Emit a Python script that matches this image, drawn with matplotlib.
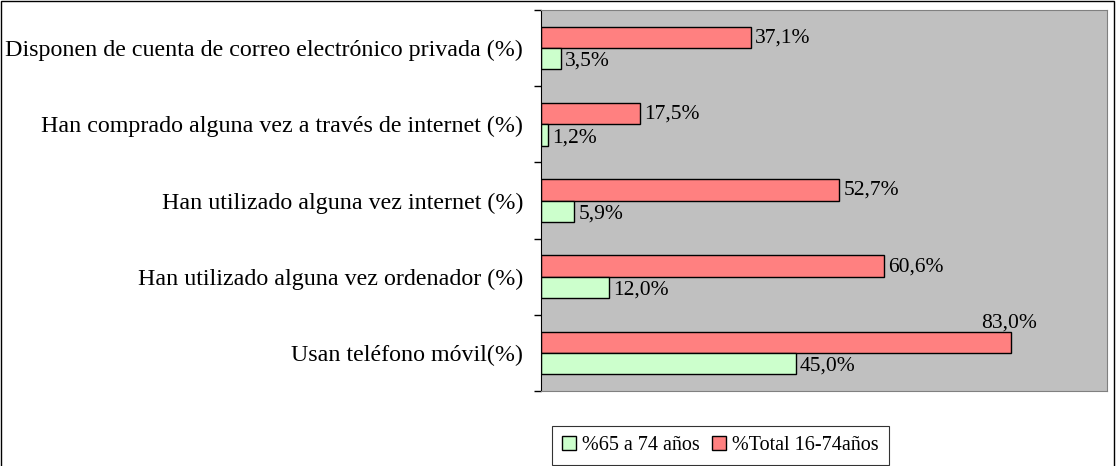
import numpy as np
import matplotlib.pyplot as plt
from matplotlib.patches import Rectangle

# categorias de abajo hacia arriba
categorias = ['Usan teléfono móvil(%)',
              'Han utilizado alguna vez ordenador (%)',
              'Han utilizado alguna vez internet (%)',
              'Han comprado alguna vez a través de internet (%)',
              'Disponen de cuenta de correo electrónico privada (%)']
mayores = [45.0, 12.0, 5.9, 1.2, 3.5]     # % 65 a 74 años
total = [83.0, 60.6, 52.7, 17.5, 37.1]    # % Total 16-74años

plt.rcParams['font.family'] = ['Liberation Serif', 'DejaVu Serif']
plt.rcParams['font.size'] = 16

fig = plt.figure(figsize=(11.16, 4.66), dpi=100)
ax = fig.add_axes([541/1116, 75/466, 566/1116, 381/466])

y = np.arange(len(categorias))
h = 0.28
b_tot = ax.barh(y + h/2, total, h, color='#FF8080', edgecolor='black', linewidth=1, label='%Total 16-74años')
b_may = ax.barh(y - h/2, mayores, h, color='#CCFFCC', edgecolor='black', linewidth=1, label='%65 a 74 años')

def fmt(v):
    return ('%.1f%%' % v).replace('.', ',')

for r, v in zip(b_tot, total):
    cy = r.get_y() + r.get_height()/2
    if v > 75:
        ax.annotate(fmt(v), (v, cy), xytext=(19, 7), textcoords='offset points',
                    ha='right', va='bottom', fontsize=15.5)
    else:
        ax.annotate(fmt(v), (v, cy), xytext=(3, -0.5), textcoords='offset points',
                    ha='left', va='center', fontsize=15.5)
for r, v in zip(b_may, mayores):
    cy = r.get_y() + r.get_height()/2
    ax.annotate(fmt(v), (v, cy), xytext=(3, -2), textcoords='offset points',
                ha='left', va='center', fontsize=15.5)

ax.set_xlim(0, 100)
ax.set_ylim(-0.5, len(categorias) - 0.5)
ax.set_facecolor('#C0C0C0')
ax.set_xticks([])
ax.set_yticks(y)
ax.set_yticklabels(categorias, fontsize=17.3)
ax.tick_params(axis='y', which='major', length=0, pad=13)
ax.set_yticks(np.arange(-0.5, len(categorias)), minor=True)
ax.tick_params(axis='y', which='minor', length=5, width=1, direction='out')
for s in ['top', 'right', 'bottom']:
    ax.spines[s].set_color('#808080')
ax.spines['left'].set_color('black')

handles = [b_may, b_tot]
leg = fig.legend(handles, [hh.get_label() for hh in handles], loc='upper left',
                 bbox_to_anchor=(552/1116, 1 - 426/466), ncol=2, frameon=True,
                 fancybox=False, edgecolor='black', fontsize=14.5,
                 handlelength=0.7, handleheight=0.7, handletextpad=0.3,
                 columnspacing=0.6, borderpad=0.5, borderaxespad=0)
leg.get_frame().set_linewidth(0.8)

fig.patches.append(Rectangle((1/1116, -0.01), 1113/1116, 1 - 0.5/466 + 0.01,
                             transform=fig.transFigure, fill=False,
                             edgecolor='black', linewidth=1))

fig.savefig('out.png', dpi=100)
